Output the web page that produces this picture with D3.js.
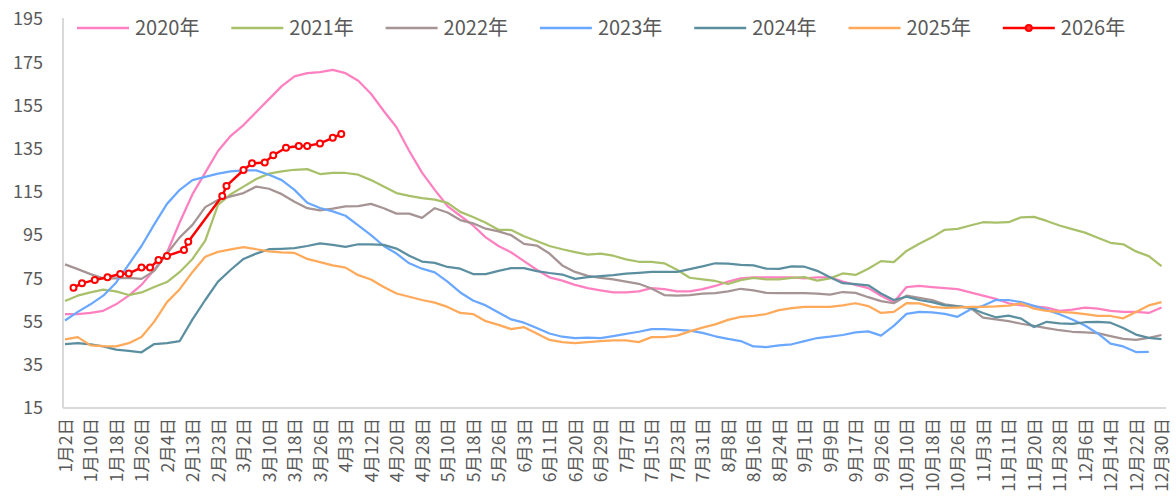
<!DOCTYPE html>
<html>
<head>
<meta charset="utf-8">
<script src="https://cdn.jsdelivr.net/npm/d3@7"></script>
<style>
  html, body { margin: 0; padding: 0; background: #fff; }
  #chart { width: 1176px; height: 501px; }
  text { font-family: "Noto Sans CJK SC", "Noto Sans", sans-serif; fill: #595959; }
</style>
</head>
<body>
<div id="chart"></div>
<script>
// x axis: one label every 6 slots, line series sampled every 3 slots
const tickLabels = ['1月2日','1月10日','1月18日','1月26日','2月4日','2月13日','2月23日','3月2日','3月10日','3月18日','3月26日','4月3日','4月12日','4月20日','4月28日','5月10日','5月18日','5月26日','6月3日','6月11日','6月20日','6月29日','7月7日','7月15日','7月23日','7月31日','8月8日','8月16日','8月24日','9月1日','9月9日','9月17日','9月26日','10月10日','10月18日','10月26日','11月3日','11月11日','11月20日','11月28日','12月6日','12月14日','12月22日','12月30日'];
const yTicks = [15, 35, 55, 75, 95, 115, 135, 155, 175, 195];

const v2020 = [58.5,58.5,59,60,63,67,72,79,87,101, 114,124,134,141,146,152,158,164,168.5,170, 170.5,171.5,170,166.5,160.5,152.5,145,134,124,116, 108.5,104,99.5,94,90,87,83,79,75.5,74, 72,70.5,69.5,68.5,68.5,69,70.5,70,69,69, 70,71.5,73.5,75,75.5,75.5,75.5,75.5,75,75.5, 75.5,73.5,72,70.5,67,64,71,71.5,71,70.5, 70,68.5,67,65.5,63.5,62.5,62,61.5,60,60.5, 61.5,61,60,59.5,59.5,59,61.5];
const v2021 = [64.5,67,68.5,69.8,69,67.3,68.5,71,73.3,78, 84,92.5,109,114,117.5,121,123.5,124.5,125.3,125.6, 123.3,123.8,123.8,123,120.5,117.5,114.5,113.2,112.2,111.5, 110,105.8,103.4,100.8,97.5,97.4,94.5,92.3,90,88.5, 87.2,86,86.5,85.5,83.8,82.7,82.6,82,79,75.3, 74.5,73.8,72.4,74.2,75.2,74.5,74.5,75.2,75.6,74, 75,77.3,76.6,79.5,83,82.5,87.7,91,94,97.5, 97.9,99.5,101,100.8,101,103.3,103.5,101.6,99.5,97.8, 96.2,93.8,91.5,90.8,87.5,85.3,80.7];
const v2022 = [81.5,79.3,77,75,75,75.2,74.8,78.5,86.5,94, 99.8,108,111.3,113,114.5,117.5,116.5,114,110.5,107.5, 106.5,107.3,108.3,108.5,109.5,107.5,105,105,103,107.5, 105.5,102,100.5,98,96.8,95,91,90.2,86.5,81, 78,76.2,75.2,74.5,73.5,72.5,70.3,67.3,67,67.3, 68,68.2,69,70.2,69.5,68.3,68.2,68.2,68.2,68, 67.5,68.7,68.3,66.3,64.5,63.5,67,66,65,63, 62.2,61.5,56.8,56,55.2,54,53,52,51,50.3, 50,49.7,48.3,47,46.5,47.5,48.8];
const v2023 = [55.5,59.5,63,67,73,81.5,90,100,109.5,116, 120.5,122,123.5,124.5,125,125,123,120.5,116,110, 107.6,106,104,99.5,95,90,86.5,82,79.5,77.8, 73.5,68.5,64.8,62.5,59.2,56,54.5,52,49.5,48, 47.4,47.6,47.4,48.3,49.3,50.3,51.5,51.5,51.2,50.8, 49.8,48.2,47,46,43.5,43.2,44,44.5,46,47.4, 48,48.8,50,50.5,48.5,53,58.6,59.5,59.3,58.6, 57.2,60.6,62.3,65,65,64,62.3,60.4,58.4,56, 53.2,49.5,44.8,43.5,40.9,41,null];
const v2024 = [44.6,45,44.5,43.5,42,41.5,40.8,44.6,45,46, 56,65,73.5,79,84,86.5,88.5,88.7,89,90, 91.2,90.5,89.6,90.8,90.7,90.5,88.8,85.5,82.8,82.2, 80.3,79.5,77,77,78.5,79.8,79.8,78.4,77.5,76.8, 74.8,75.6,76,76.5,77.2,77.6,78,78,78,79.3, 80.6,82,81.8,81.3,81,79.5,79.4,80.6,80.4,78.5, 75.5,72.8,72.3,71.8,68,65,66.5,65,64,62.5, 62,61.3,59,57,57.8,56.4,52.5,54.9,54.2,53.9, 54.7,54.9,54.5,52,49,47.5,46.9];
const v2025 = [46.8,47.8,44,43.6,43.5,45,47.9,55,64,70, 78,85,87.3,88.4,89.5,88.5,87.5,87,86.8,84, 82.5,81,80,76.5,74.5,71,68,66.5,65,63.8, 61.8,59,58.5,55.2,53.5,51.5,52.4,49.5,46.5,45.5, 45,45.5,46,46.3,46.3,45.5,47.8,47.8,48.5,50.5, 52.2,53.7,55.8,57.2,57.6,58.5,60.3,61.2,61.8,61.8, 61.8,62.5,63.5,62.2,59,59.5,63.5,63.4,61.8,61.3, 61.5,61.8,61.8,62,62.4,63.4,61,60,59.5,59.2, 58.5,57.6,57.6,56.5,59.5,62.5,64];
// 2026: marked points, with their slot on the x axis
const slots2026 = [2,4,7,10,13,15,18,20,22,24,28,29,37,38,42,44,47,49,52,55,57,60,63,65];
const v2026 = [70.7,72.7,74.3,75.5,77,77.3,80,80,83.5,85.4,88.1,92,113.1,117.8,125.2,128.3,128.7,132,135.5,136.3,136.3,137.5,140.1,141.9];

const seriesNames = ['2020年','2021年','2022年','2023年','2024年','2025年','2026年'];
const seriesColors = ['#ff80c0','#a9c06a','#a69494','#6aa8ff','#5b8fa0','#ffa95a','#ff0000'];

const width = 1176, height = 501;
const plot = { left: 63, right: 1166, top: 19, bottom: 408 };
const slotsPerLabel = 6, sampleStep = 3;
const lastSlot = (tickLabels.length - 1) * slotsPerLabel;

const svg = d3.select('#chart').append('svg')
    .attr('width', width)
    .attr('height', height);

const x = d3.scaleLinear().domain([0, lastSlot]).range([65, 1161.5]);
const y = d3.scaleLinear().domain([15, 195]).range([plot.bottom, 19.2]);

// axis lines
svg.append('line')
    .attr('x1', plot.left).attr('x2', plot.left)
    .attr('y1', plot.top - 1).attr('y2', plot.bottom)
    .attr('stroke', '#d9d9d9').attr('stroke-width', 2);
svg.append('line')
    .attr('x1', plot.left).attr('x2', plot.right)
    .attr('y1', plot.bottom).attr('y2', plot.bottom)
    .attr('stroke', '#d9d9d9').attr('stroke-width', 2);

// y axis labels
const yAxis = svg.append('g')
    .attr('transform', `translate(${plot.left},0)`)
    .call(d3.axisLeft(y).tickValues(yTicks).tickSize(0).tickPadding(20));
yAxis.select('.domain').remove();
yAxis.selectAll('text')
    .style('font-size', '18px')
    .attr('fill', '#595959');

// x axis labels, rotated
const xAxis = svg.append('g')
    .attr('transform', `translate(0,${plot.bottom})`)
    .call(d3.axisBottom(x)
        .tickValues(tickLabels.map((d, i) => i * slotsPerLabel))
        .tickFormat((d, i) => tickLabels[i])
        .tickSize(0));
xAxis.select('.domain').remove();
xAxis.selectAll('text')
    .style('font-size', '17.5px')
    .attr('fill', '#595959')
    .attr('text-anchor', 'end')
    .attr('dy', '0.35em')
    .attr('transform', 'translate(0,10) rotate(-90)')
    .attr('x', 0)
    .attr('y', 0);

// lines
const lineGen = d3.line()
    .defined(d => d[1] != null)
    .x(d => x(d[0]))
    .y(d => y(d[1]));

const allSeries = [v2020, v2021, v2022, v2023, v2024, v2025];
allSeries.forEach((vals, i) => {
    const pts = vals.map((v, j) => [j * sampleStep, v]);
    svg.append('path')
        .datum(pts)
        .attr('fill', 'none')
        .attr('stroke', seriesColors[i])
        .attr('stroke-width', 2.25)
        .attr('stroke-linejoin', 'round')
        .attr('d', lineGen);
});

const pts2026 = slots2026.map((s, j) => [s, v2026[j]]);
svg.append('path')
    .datum(pts2026)
    .attr('fill', 'none')
    .attr('stroke', seriesColors[6])
    .attr('stroke-width', 2.5)
    .attr('stroke-linejoin', 'round')
    .attr('d', lineGen);
svg.append('g').selectAll('circle')
    .data(pts2026)
    .enter().append('circle')
    .attr('cx', d => x(d[0]))
    .attr('cy', d => y(d[1]))
    .attr('r', 3)
    .attr('fill', '#fff')
    .attr('stroke', seriesColors[6])
    .attr('stroke-width', 2);

// legend
const legend = svg.append('g').attr('transform', 'translate(77,28)');
seriesNames.forEach((name, i) => {
    const g = legend.append('g').attr('transform', `translate(${i * 154.3},0)`);
    g.append('line')
        .attr('x1', 0).attr('x2', 52)
        .attr('y1', 0).attr('y2', 0)
        .attr('stroke', seriesColors[i])
        .attr('stroke-width', 2.5);
    if (i === 6) {
        g.append('circle')
            .attr('cx', 26).attr('cy', 0).attr('r', 3)
            .attr('fill', '#ff3030')
            .attr('stroke', seriesColors[i])
            .attr('stroke-width', 2);
    }
    g.append('text')
        .attr('x', 58)
        .attr('y', 0)
        .attr('dy', '0.35em')
        .style('font-size', '20px')
        .text(name);
});
</script>
</body>
</html>
